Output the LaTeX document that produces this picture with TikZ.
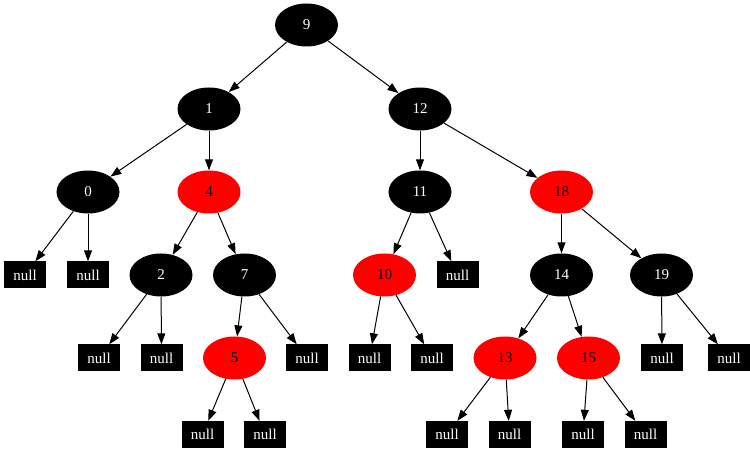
\documentclass[tikz,border=0pt]{standalone}
\usepackage{fontspec}
\setmainfont{Liberation Serif}
\usetikzlibrary{arrows.meta,shapes.geometric}
\tikzset{
  lbl/.style={font=\fontsize{15}{17}\selectfont},
  blk/.style={lbl, ellipse, fill=black, text=white, minimum width=63pt, minimum height=43pt, inner sep=0pt},
  rd/.style={lbl, ellipse, fill=red, text=black, minimum width=63pt, minimum height=43pt, inner sep=0pt},
  nil/.style={lbl, rectangle, fill=black, text=white, minimum width=42pt, minimum height=27pt, inner sep=0pt},
  edge/.style={draw=black, line width=1pt, -{Triangle[length=11pt,width=8pt]}}
}
\begin{document}
\begin{tikzpicture}[x=1pt,y=-1pt]
\useasboundingbox (0,0) rectangle (750,454);
% row 0
\node[blk] (n9) at (306.5,25) {9};
% row 1
\node[blk] (n1) at (209,109) {1};
\node[blk] (n12) at (420,109) {12};
% row 2
\node[blk] (n0) at (88,192) {0};
\node[rd] (n4) at (209,192) {4};
\node[blk] (n11) at (420,192) {11};
\node[rd] (n18) at (561.5,192) {18};
% row 3
\node[nil] (z0a) at (25,275) {null};
\node[nil] (z0b) at (88,275) {null};
\node[blk] (n2) at (161,275) {2};
\node[blk] (n7) at (244.5,275) {7};
\node[rd] (n10) at (384.5,275) {10};
\node[nil] (z11) at (457.5,275) {null};
\node[blk] (n14) at (561.5,275) {14};
\node[blk] (n19) at (661.5,275) {19};
% row 4
\node[nil] (z2a) at (99,358) {null};
\node[nil] (z2b) at (161.5,358) {null};
\node[rd] (n5) at (234.5,358) {5};
\node[nil] (z7) at (307,358) {null};
\node[nil] (z10a) at (369.5,358) {null};
\node[nil] (z10b) at (432,358) {null};
\node[rd] (n13) at (505,358) {13};
\node[rd] (n15) at (588.5,358) {15};
\node[nil] (z19a) at (662,358) {null};
\node[nil] (z19b) at (729,358) {null};
% row 5
\node[nil] (z5a) at (202.5,434.5) {null};
\node[nil] (z5b) at (265,434.5) {null};
\node[nil] (z13a) at (447,434.5) {null};
\node[nil] (z13b) at (509.5,434.5) {null};
\node[nil] (z15a) at (583,434.5) {null};
\node[nil] (z15b) at (645.5,434.5) {null};
% edges
\foreach \a/\b in {n9/n1, n9/n12, n1/n0, n1/n4, n12/n11, n12/n18,
  n0/z0a, n0/z0b, n4/n2, n4/n7, n11/n10, n11/z11, n18/n14, n18/n19,
  n2/z2a, n2/z2b, n7/n5, n7/z7, n10/z10a, n10/z10b, n14/n13, n14/n15,
  n19/z19a, n19/z19b, n5/z5a, n5/z5b, n13/z13a, n13/z13b, n15/z15a, n15/z15b}
  \draw[edge] (\a) -- (\b);
\end{tikzpicture}
\end{document}
